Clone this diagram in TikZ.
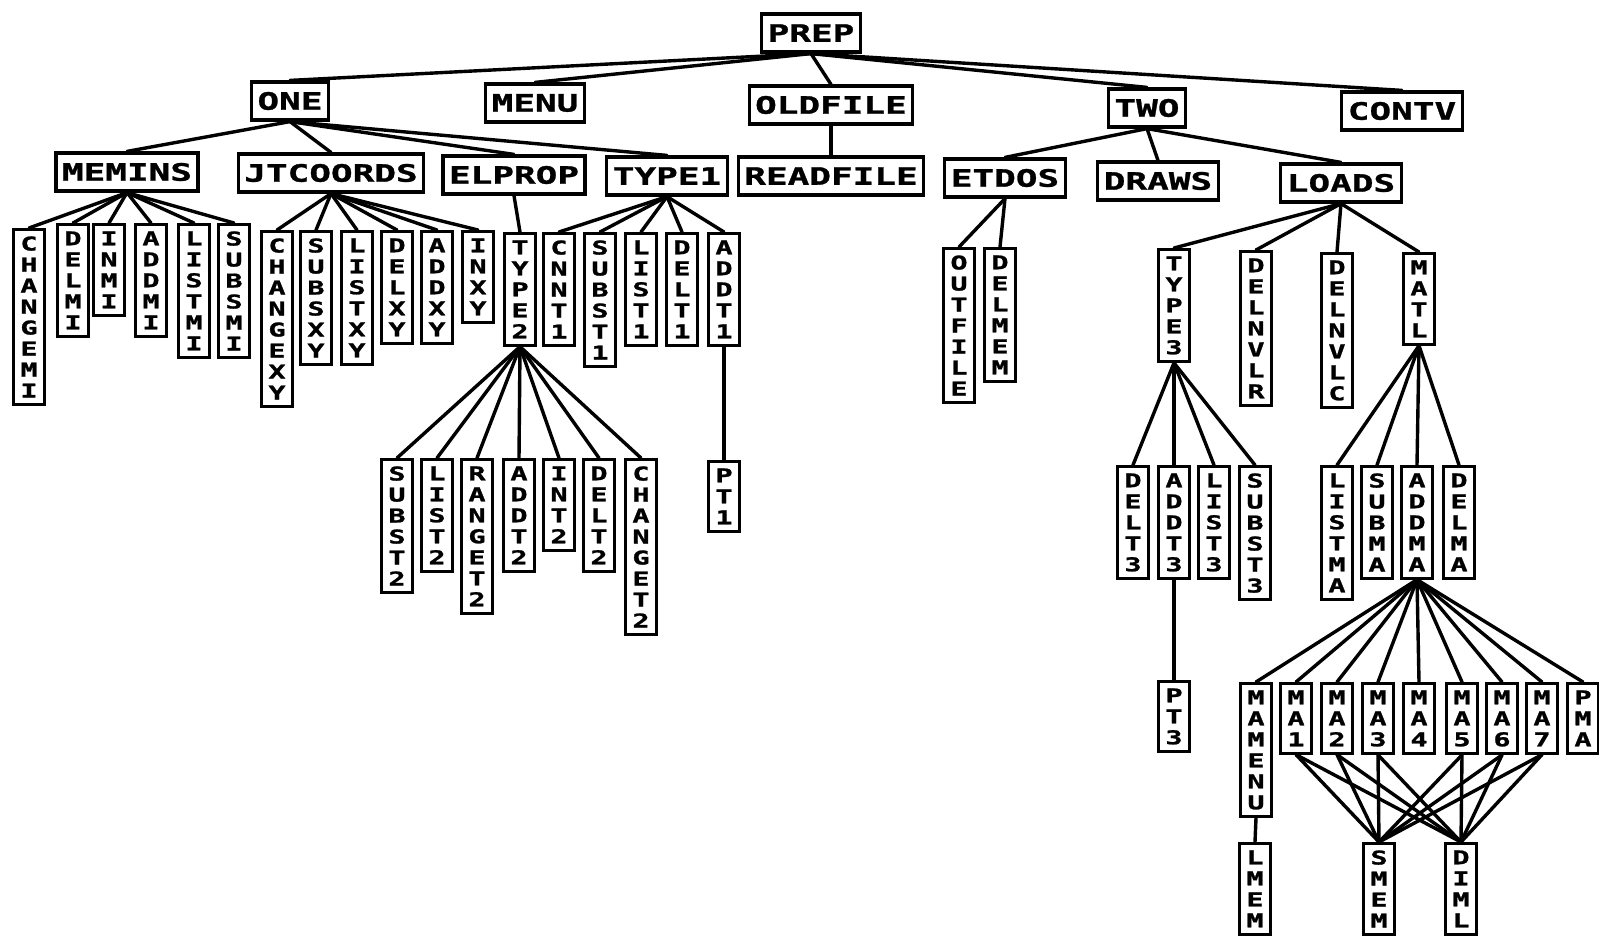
\documentclass[tikz,border=0pt]{standalone}
\usepackage{fontspec}
\usepackage{graphicx}
\newfontfamily\pf[FakeStretch=1.5,BoldFeatures={FakeBold=1.2}]{DejaVu Sans Mono}
\makeatletter
\newcommand\vlab[1]{\vbox{\baselineskip=21pt\lineskiplimit=-100pt\lineskip=0pt\@tfor\vl@c:=#1\do{\hbox to 20pt{\hss\vl@c\hss}}}}
\makeatother
\tikzset{
  hb/.style={draw, line width=3.2pt, minimum height=38pt, inner xsep=6pt, inner ysep=0pt,
    font=\pf\bfseries\fontsize{24}{24}\selectfont},
  vb/.style={draw, line width=2.8pt, minimum width=31pt, inner xsep=0pt, inner ysep=7pt, anchor=north,
    font=\pf\bfseries\fontsize{19}{21}\selectfont},
  conn/.style={line width=3.4pt, line cap=round}
}
\begin{document}
\begin{tikzpicture}[x=1pt,y=-1pt]
\useasboundingbox[fill=white] (0,0) rectangle (1599,938);
% top levels
\node[hb] (prep) at (811,33) {PREP};
\node[hb] (one) at (290,101) {ONE};
\node[hb] (menu) at (535,103) {MENU};
\node[hb] (oldfile) at (831,105) {OLDFILE};
\node[hb] (two) at (1147,108) {TWO};
\node[hb] (contv) at (1402,111) {CONTV};
\node[hb] (memins) at (127,172) {MEMINS};
\node[hb] (jtcoords) at (331,173) {JTCOORDS};
\node[hb] (elprop) at (514,175) {ELPROP};
\node[hb] (type1) at (667,176) {TYPE1};
\node[hb] (readfile) at (831,176) {READFILE};
\node[hb] (etdos) at (1005,178) {ETDOS};
\node[hb] (draws) at (1158,181) {DRAWS};
\node[hb] (loads) at (1341,183) {LOADS};
% MEMINS children
\node[vb] (changemi) at (29,228) {\vlab{CHANGEMI}};
\node[vb] (delmi) at (73,223) {\vlab{DELMI}};
\node[vb] (inmi) at (109,223) {\vlab{INMI}};
\node[vb] (addmi) at (151,223) {\vlab{ADDMI}};
\node[vb] (listmi) at (194,223) {\vlab{LISTMI}};
\node[vb] (subsmi) at (234,223) {\vlab{SUBSMI}};
% JTCOORDS children
\node[vb] (changexy) at (277,230) {\vlab{CHANGEXY}};
\node[vb] (subsxy) at (316,230) {\vlab{SUBSXY}};
\node[vb] (listxy) at (357,230) {\vlab{LISTXY}};
\node[vb] (delxy) at (397,230) {\vlab{DELXY}};
\node[vb] (addxy) at (437,230) {\vlab{ADDXY}};
\node[vb] (inxy) at (478,230) {\vlab{INXY}};
% ELPROP / TYPE1 children
\node[vb] (type2) at (520,232) {\vlab{TYPE2}};
\node[vb] (cnnt1) at (559,232) {\vlab{CNNT1}};
\node[vb] (subst1) at (600,232) {\vlab{SUBST1}};
\node[vb] (list1) at (641,232) {\vlab{LIST1}};
\node[vb] (delt1) at (682,232) {\vlab{DELT1}};
\node[vb] (addt1) at (724,232) {\vlab{ADDT1}};
\node[vb] (pt1) at (724,460) {\vlab{PT1}};
% TYPE2 children
\node[vb] (subst2) at (397,458) {\vlab{SUBST2}};
\node[vb] (list2) at (437,458) {\vlab{LIST2}};
\node[vb] (ranget2) at (477,458) {\vlab{RANGET2}};
\node[vb] (addt2) at (519,458) {\vlab{ADDT2}};
\node[vb] (int2) at (559,458) {\vlab{INT2}};
\node[vb] (delt2) at (599,458) {\vlab{DELT2}};
\node[vb] (changet2) at (641,458) {\vlab{CHANGET2}};
% ETDOS children
\node[vb] (outfile) at (959,247) {\vlab{OUTFILE}};
\node[vb] (delmem) at (1000,247) {\vlab{DELMEM}};
% LOADS children
\node[vb] (type3) at (1174,248) {\vlab{TYPE3}};
\node[vb] (delnvlr) at (1256,250) {\vlab{DELNVLR}};
\node[vb] (delnvlc) at (1337,252) {\vlab{DELNVLC}};
\node[vb] (matl) at (1419,252) {\vlab{MATL}};
% TYPE3 children
\node[vb] (delt3) at (1133,465) {\vlab{DELT3}};
\node[vb] (addt3) at (1174,465) {\vlab{ADDT3}};
\node[vb] (list3) at (1214,465) {\vlab{LIST3}};
\node[vb] (subst3) at (1255,465) {\vlab{SUBST3}};
\node[vb] (pt3) at (1174,680) {\vlab{PT3}};
% MATL children
\node[vb] (listma) at (1337,465) {\vlab{LISTMA}};
\node[vb] (subma) at (1377,465) {\vlab{SUBMA}};
\node[vb] (addma) at (1417,465) {\vlab{ADDMA}};
\node[vb] (delma) at (1459,465) {\vlab{DELMA}};
% ADDMA children
\node[vb] (mamenu) at (1256,682) {\vlab{MAMENU}};
\node[vb] (ma1) at (1296,682) {\vlab{MA1}};
\node[vb] (ma2) at (1337,682) {\vlab{MA2}};
\node[vb] (ma3) at (1378,682) {\vlab{MA3}};
\node[vb] (ma4) at (1419,682) {\vlab{MA4}};
\node[vb] (ma5) at (1462,682) {\vlab{MA5}};
\node[vb] (ma6) at (1502,682) {\vlab{MA6}};
\node[vb] (ma7) at (1542,682) {\vlab{MA7}};
\node[vb] (pma) at (1583,682) {\vlab{PMA}};
\node[vb] (lmem) at (1255,842) {\vlab{LMEM}};
\node[vb] (smem) at (1379,842) {\vlab{SMEM}};
\node[vb] (diml) at (1461,842) {\vlab{DIML}};
% connectors
\foreach \c in {one,menu,oldfile,two,contv} \draw[conn] (prep.south) -- (\c.north);
\foreach \c in {memins,jtcoords,elprop,type1} \draw[conn] (one.south) -- (\c.north);
\draw[conn] (oldfile.south) -- (readfile.north);
\foreach \c in {etdos,draws,loads} \draw[conn] (two.south) -- (\c.north);
\foreach \c in {changemi,delmi,inmi,addmi,listmi,subsmi} \draw[conn] (memins.south) -- (\c.north);
\foreach \c in {changexy,subsxy,listxy,delxy,addxy,inxy} \draw[conn] (jtcoords.south) -- (\c.north);
\draw[conn] (elprop.south) -- (type2.north);
\foreach \c in {cnnt1,subst1,list1,delt1,addt1} \draw[conn] (type1.south) -- (\c.north);
\draw[conn] (addt1.south) -- (pt1.north);
\foreach \c in {subst2,list2,ranget2,addt2,int2,delt2,changet2} \draw[conn] (type2.south) -- (\c.north);
\foreach \c in {outfile,delmem} \draw[conn] (etdos.south) -- (\c.north);
\foreach \c in {type3,delnvlr,delnvlc,matl} \draw[conn] (loads.south) -- (\c.north);
\foreach \c in {delt3,addt3,list3,subst3} \draw[conn] (type3.south) -- (\c.north);
\draw[conn] (addt3.south) -- (pt3.north);
\foreach \c in {listma,subma,addma,delma} \draw[conn] (matl.south) -- (\c.north);
\foreach \c in {mamenu,ma1,ma2,ma3,ma4,ma5,ma6,ma7,pma} \draw[conn] (addma.south) -- (\c.north);
\draw[conn] (mamenu.south) -- (lmem.north);
\foreach \c in {ma1,ma2,ma3,ma5,ma6,ma7} {
  \draw[conn] (\c.south) -- (smem.north);
  \draw[conn] (\c.south) -- (diml.north);
}
\end{tikzpicture}
\end{document}
